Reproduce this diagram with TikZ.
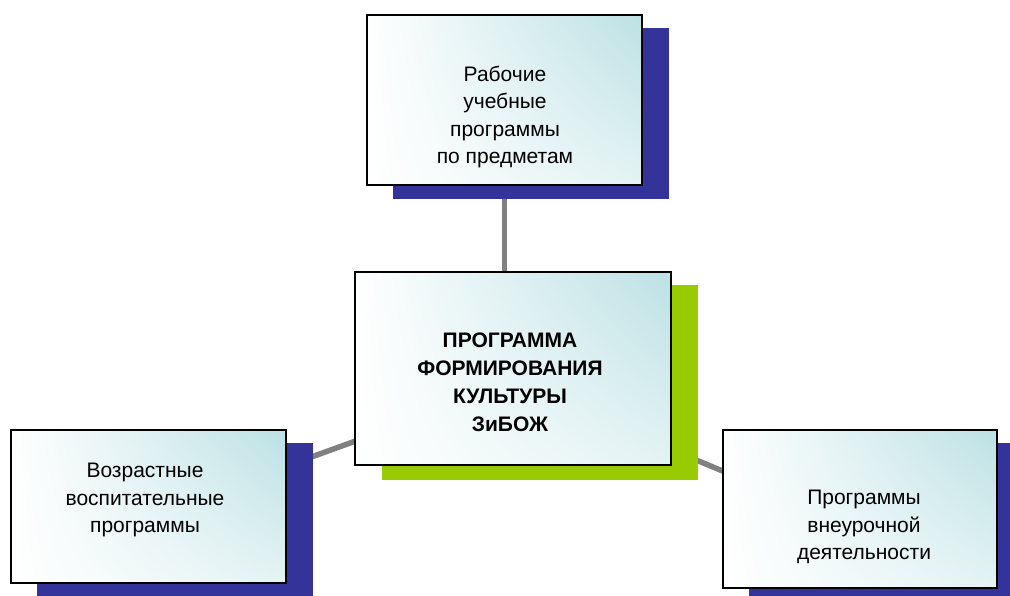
\documentclass[tikz,border=0pt]{standalone}
\usepackage{fontspec}
\setmainfont{Liberation Sans}
\usetikzlibrary{shadings}
\definecolor{navyshadow}{HTML}{333399}
\definecolor{greenshadow}{HTML}{99CC00}
\definecolor{tealcorner}{RGB}{188,225,228}
\definecolor{tealmid}{RGB}{228,243,244}
\definecolor{linkgray}{HTML}{808080}
\begin{document}
\begin{tikzpicture}[x=1pt,y=-1pt,
  shadowbox/.style={draw=none, inner sep=0pt},
  mainbox/.style={draw=black, line width=1.5pt, inner sep=0pt,
    upper right=tealcorner, upper left=white, lower left=white, lower right=tealmid},
  link/.style={draw=linkgray, line width=5.5pt},
  txt/.style={align=center, font=\fontsize{21}{27.5}\selectfont, inner sep=0pt},
  boldtxt/.style={align=center, font=\fontsize{21}{28}\selectfont\bfseries, inner sep=0pt}
]
\useasboundingbox (0,0) rectangle (1010,595);

% box positions
\coordinate (tpos) at (504.5,100);
\coordinate (cpos) at (513,368.5);
\coordinate (lpos) at (148.5,506.5);
\coordinate (rpos) at (860,509);

% connector anchors
\coordinate (hub) at (513,384);
\coordinate (lend) at (148.5,516);
\coordinate (rend) at (860,528);

% connectors (behind everything)
\draw[link] (tpos) -- (tpos |- cpos);
\draw[link] (lend) -- (hub);
\draw[link] (hub) -- (rend);

% shadows
\node[shadowbox, fill=navyshadow, minimum width=276pt, minimum height=171pt] (ts) at ([shift={(26.5,13.5)}]tpos) {};
\node[shadowbox, fill=greenshadow, minimum width=316pt, minimum height=195pt] (cs) at ([shift={(27,14)}]cpos) {};
\node[shadowbox, fill=navyshadow, minimum width=276pt, minimum height=153pt] (ls) at ([shift={(26,13)}]lpos) {};
\node[shadowbox, fill=navyshadow, minimum width=274pt, minimum height=158pt] (rs) at ([shift={(26,13)}]rpos) {};

% main boxes
\node[mainbox, minimum width=275pt, minimum height=170pt] (t) at (tpos) {};
\node[mainbox, minimum width=316pt, minimum height=193pt] (c) at (cpos) {};
\node[mainbox, minimum width=275pt, minimum height=153pt] (l) at (lpos) {};
\node[mainbox, minimum width=274pt, minimum height=158pt] (r) at (rpos) {};

% texts
\node[txt] (ttext) at (505,117) {Рабочие\\учебные\\программы\\по предметам};
\node[boldtxt] (ctext) at (510,382) {ПРОГРАММА\\ФОРМИРОВАНИЯ\\КУЛЬТУРЫ\\ЗиБОЖ};
\node[txt] (ltext) at (145,500) {Возрастные\\воспитательные\\программы};
\node[txt] (rtext) at (864,527) {Программы\\внеурочной\\деятельности};
\end{tikzpicture}
\end{document}
